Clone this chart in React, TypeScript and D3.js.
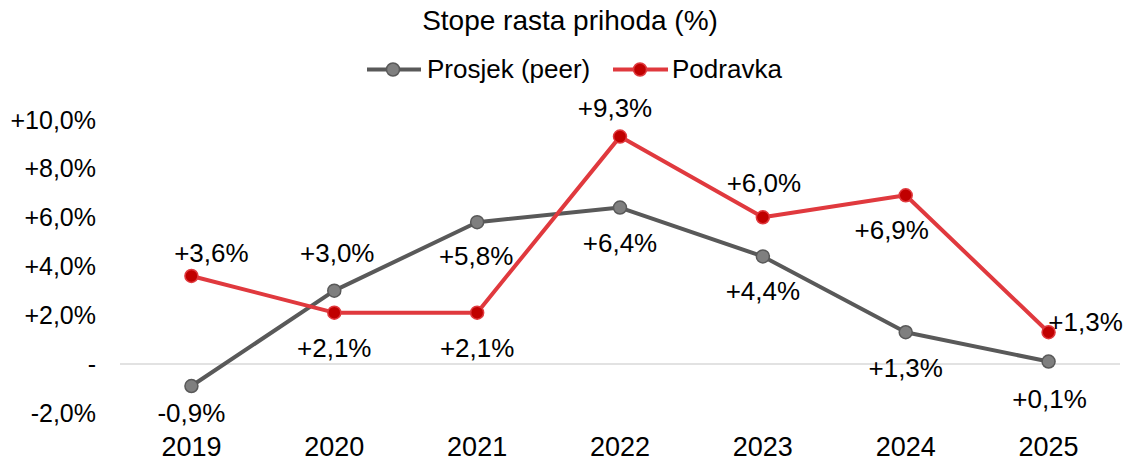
import React from "react"
import * as d3 from "d3"

// Stope rasta prihoda (%) - Prosjek (peer) vs Podravka
const years = ["2019", "2020", "2021", "2022", "2023", "2024", "2025"]
const peer = [-0.9, 3.0, 5.8, 6.4, 4.4, 1.3, 0.1]
const podravka = [3.6, 2.1, 2.1, 9.3, 6.0, 6.9, 1.3]
const yTicks = [-2, 0, 2, 4, 6, 8, 10]

// label offsets relative to the point: [dx of text centre, dy of baseline]
const peerLabelOff = [[0, 36], [3, -29], [-1, 43], [0, 44], [0, 44], [0, 45], [1, 46]]
const podLabelOff = [[20, -14], [0, 44], [0, 44], [-5, -20], [1, -25], [-14, 44], [37, -1]]

const W = 1127, H = 464
const font = "'Liberation Sans', Arial, sans-serif"
const greyLine = "#595959", greyDot = "#7f7f7f"
const redLine = "#e0393e", redDot = "#c00000"

const fmt = (v: number) => (v < 0 ? "-" : "+") + Math.abs(v).toFixed(1).replace(".", ",") + "%"
const fmtTick = (v: number) => (v === 0 ? "-" : fmt(v))

export default function App() {
  const x = d3.scaleBand().domain(years).range([120, 1120])
  const cx = (d: string) => (x(d) as number) + x.bandwidth() / 2
  const y = d3.scaleLinear().domain([0, 10]).range([364, 119.5])
  const line = d3.line<number>().x((_, i) => cx(years[i])).y(v => y(v))

  const labels = (vals: number[], off: number[][]) =>
    vals.map((v, i) => (
      <text key={i} x={cx(years[i]) + off[i][0]} y={y(v) + off[i][1]} textAnchor="middle" fontSize={26} fill="#000">
        {fmt(v)}
      </text>
    ))

  return (
    <svg width={W} height={H} style={{ position: "absolute", left: 0, top: 0 }} fontFamily={font}>
      <rect width={W} height={H} fill="#fff" />
      <text x={570} y={30} textAnchor="middle" fontSize={28}>Stope rasta prihoda (%)</text>
      {/* legend */}
      <g>
        <line x1={367} x2={421} y1={69.5} y2={69.5} stroke={greyLine} strokeWidth={4} />
        <circle cx={393} cy={69.5} r={6.5} fill={greyDot} stroke={greyLine} strokeWidth={1.5} />
        <text x={427} y={78} fontSize={26}>Prosjek (peer)</text>
        <line x1={613} x2={668} y1={69.5} y2={69.5} stroke={redLine} strokeWidth={4} />
        <circle cx={640} cy={69.5} r={6.5} fill={redDot} stroke={redLine} strokeWidth={1.5} />
        <text x={672} y={78} fontSize={26}>Podravka</text>
      </g>
      {/* y axis */}
      {yTicks.map(t => (
        <text key={t} x={96} y={y(t) + 9} textAnchor="end" fontSize={25}>{fmtTick(t)}</text>
      ))}
      <line x1={120} x2={1120} y1={y(0)} y2={y(0)} stroke="#d9d9d9" strokeWidth={1.5} />
      {years.map(d => (
        <text key={d} x={cx(d)} y={456} textAnchor="middle" fontSize={27}>{d}</text>
      ))}
      <path d={line(peer) as string} fill="none" stroke={greyLine} strokeWidth={4} strokeLinejoin="round" />
      <path d={line(podravka) as string} fill="none" stroke={redLine} strokeWidth={4} strokeLinejoin="round" />
      {peer.map((v, i) => (
        <circle key={i} cx={cx(years[i])} cy={y(v)} r={6.5} fill={greyDot} stroke={greyLine} strokeWidth={1.5} />
      ))}
      {podravka.map((v, i) => (
        <circle key={i} cx={cx(years[i])} cy={y(v)} r={6.5} fill={redDot} stroke={redLine} strokeWidth={1.5} />
      ))}
      {labels(peer, peerLabelOff)}
      {labels(podravka, podLabelOff)}
    </svg>
  )
}
